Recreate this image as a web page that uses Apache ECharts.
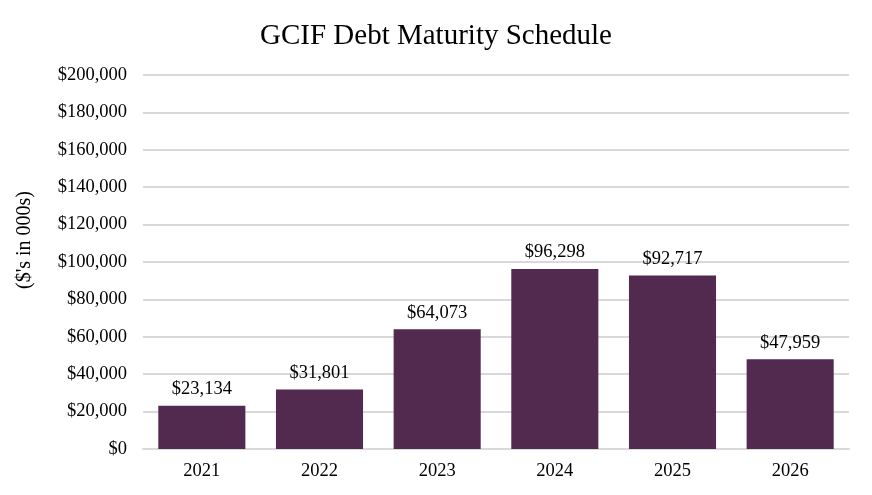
<!DOCTYPE html>
<html>
<head>
<meta charset="utf-8">
<script src="https://cdn.jsdelivr.net/npm/echarts@6/dist/echarts.min.js"></script>
<style>html,body{margin:0;padding:0;background:#fff}#c{width:872px;height:495px}</style>
</head>
<body>
<div id="c"></div>
<script>
const title = "GCIF Debt Maturity Schedule";
const yAxisName = "($'s in 000s)";
const categories = ["2021", "2022", "2023", "2024", "2025", "2026"];
const values = [23134, 31801, 64073, 96298, 92717, 47959];
const yMin = 0, yMax = 200000, yStep = 20000;

const fmt = v => "$" + v.toLocaleString("en-US");
const font = "'Liberation Serif', 'Times New Roman', serif";

const chart = echarts.init(document.getElementById('c'));
chart.setOption({
  animation: false,
  backgroundColor: '#fff',
  title: {
    text: title, left: 'center', top: 17,
    textStyle: { fontFamily: font, fontSize: 29, fontWeight: 'normal', color: '#000' }
  },
  graphic: [{
    type: 'text', rotation: Math.PI / 2,
    x: 25, y: 240,
    style: { text: yAxisName, fontFamily: font, fontSize: 20, fill: '#000', textAlign: 'center', textVerticalAlign: 'middle' }
  }],
  grid: { left: 143, right: 23, top: 75, bottom: 46 },
  xAxis: {
    type: 'category', data: categories,
    axisLine: { show: true, lineStyle: { color: '#d9d9d9', width: 2 } },
    axisTick: { show: false },
    axisLabel: { fontFamily: font, fontSize: 18.5, color: '#000', margin: 13 }
  },
  yAxis: {
    type: 'value', min: yMin, max: yMax, interval: yStep,
    axisLine: { show: false }, axisTick: { show: false },
    axisLabel: { fontFamily: font, fontSize: 18.5, color: '#000', margin: 16, formatter: fmt },
    splitLine: { lineStyle: { color: '#d9d9d9', width: 2 } }
  },
  series: [{
    type: 'bar', data: values, barWidth: '74%',
    itemStyle: { color: '#52294f' },
    label: {
      show: true, position: 'top', distance: 7,
      fontFamily: font, fontSize: 18.5, color: '#000',
      formatter: p => fmt(p.value)
    }
  }]
});
</script>
</body>
</html>
